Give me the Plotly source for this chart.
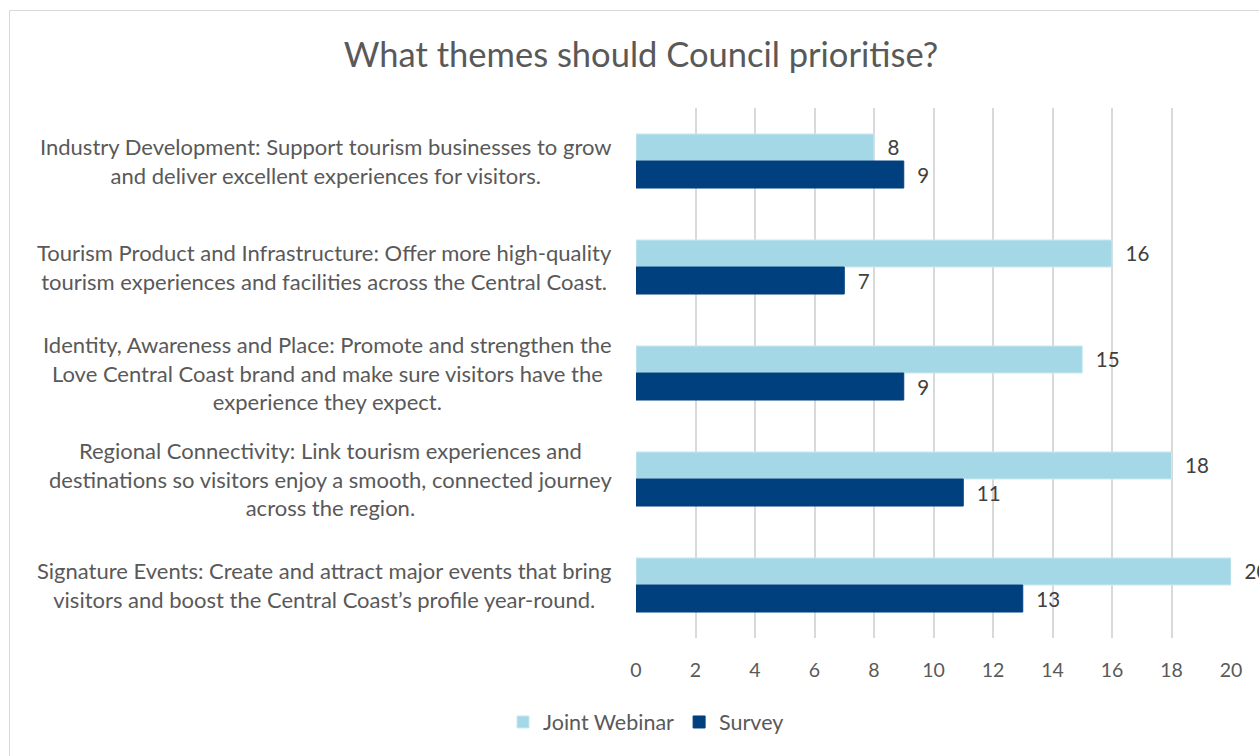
import plotly.graph_objects as go

categories = [
    "Industry Development: Support tourism businesses to grow<br>and deliver excellent experiences for visitors.",
    "Tourism Product and Infrastructure: Offer more high-quality<br>tourism experiences and facilities across the Central Coast.",
    "Identity, Awareness and Place: Promote and strengthen the<br>Love Central Coast brand and make sure visitors have the<br>experience they expect.",
    "Regional Connectivity: Link tourism experiences and<br>destinations so visitors enjoy a smooth, connected journey<br>across the region.",
    "Signature Events: Create and attract major events that bring<br>visitors and boost the Central Coast\u2019s profile year-round.",
]
cat_ids = ["c1", "c2", "c3", "c4", "c5"]
joint_webinar = [8, 16, 15, 18, 20]
survey = [9, 7, 9, 11, 13]
x_ticks = [0, 2, 4, 6, 8, 10, 12, 14, 16, 18, 20]

FONT = "Lato"
TXT = "#595959"
W, H = 1259, 756
L, R, T, B = 636, 1231, 108, 638

fig = go.Figure()
fig.add_trace(go.Bar(
    y=cat_ids, x=joint_webinar, orientation="h", name="Joint Webinar",
    marker=dict(color="#A5D8E6", line=dict(color="#C9E9F1", width=1)),
    text=["\u00a0\u00a0" + str(v) for v in joint_webinar], textposition="outside",
    textfont=dict(family=FONT, size=20.5, color="#404040"), cliponaxis=False,
))
fig.add_trace(go.Bar(
    y=cat_ids, x=survey, orientation="h", name="Survey",
    marker=dict(color="#00407F", line=dict(color="#00407F", width=1)),
    text=["\u00a0\u00a0" + str(v) for v in survey], textposition="outside",
    textfont=dict(family=FONT, size=20.5, color="#404040"), cliponaxis=False,
))

annotations = []
for cid, lab in zip(cat_ids, categories):
    annotations.append(dict(
        x=-(L - 614) / (R - L), xref="paper", y=cid, yref="y",
        text=lab, showarrow=False, xanchor="right", yanchor="middle",
        align="center", font=dict(family=FONT, size=22, color=TXT),
    ))

shapes = [dict(
    type="rect", xref="paper", yref="paper",
    x0=(9.5 - L) / (R - L), x1=(1300 - L) / (R - L),
    y0=(B - 800) / (B - T), y1=(B - 10.5) / (B - T),
    line=dict(color="#D9D9D9", width=1), fillcolor="rgba(0,0,0,0)", layer="below",
)]

fig.update_layout(
    width=W, height=H,
    margin=dict(l=L, r=W - R, t=T, b=H - B, autoexpand=False),
    paper_bgcolor="white", plot_bgcolor="white",
    barmode="group", bargap=0.49, bargroupgap=0,
    font=dict(family=FONT, color=TXT),
    title=dict(text="What themes should Council prioritise?", x=641 / W, xref="container",
               y=1 - 55 / H, yref="container", xanchor="center", yanchor="middle",
               font=dict(family=FONT, size=34.5, color=TXT)),
    legend=dict(orientation="h", x=646 / W, xref="container", y=1 - 722 / H, yref="container",
                xanchor="center", yanchor="middle", font=dict(family=FONT, size=21.5, color=TXT),
                traceorder="normal", itemwidth=30),
    xaxis=dict(range=[0, 20], tickvals=x_ticks, showgrid=True, gridcolor="#D9D9D9", gridwidth=1.6,
               zeroline=False, showline=False, ticks="", ticklabelstandoff=18,
               tickfont=dict(family=FONT, size=19.5, color=TXT)),
    yaxis=dict(categoryorder="array", categoryarray=cat_ids, autorange="reversed",
               showticklabels=False, showgrid=False, zeroline=False, showline=False, ticks=""),
    annotations=annotations, shapes=shapes,
)

fig.write_html("out.html")
